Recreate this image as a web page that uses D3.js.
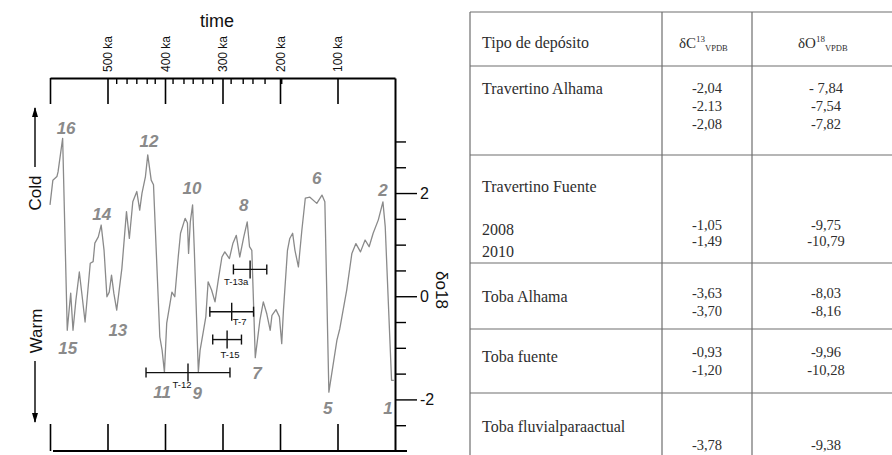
<!DOCTYPE html>
<html>
<head>
<meta charset="utf-8">
<script src="https://cdn.jsdelivr.net/npm/d3@7"></script>
<style>
  body { margin: 0; background: #fff; }
  svg { display: block; }
</style>
</head>
<body>
<div id="chart"></div>
<script>
'use strict';
// d18O curve (ka vs d18O), stage numbers, dated samples and the isotope table

const ages = [600, 595, 588, 586, 578, 570, 564, 560, 555, 549, 544, 539, 530, 525, 522, 516, 511, 506, 501, 497,
  493, 489, 484, 475, 467, 462, 456, 449, 444, 440, 434, 430, 424, 420, 409, 405, 401, 397, 388, 383,
  377, 373, 365, 361, 359, 356, 352, 349, 342, 339, 333, 329, 325, 319, 313, 307, 301, 296, 288, 282,
  276, 270, 263, 257, 253, 249, 243, 235, 229, 223, 217, 214, 207, 201, 197, 194, 187, 183, 178, 174,
  168, 162, 156, 148, 136, 127, 122, 115, 101, 96, 84, 75, 68, 60, 52, 45, 38, 29, 21, 17, 12, 6, 2];
const d18O = [1.77, 2.25, 2.32, 2.41, 3.06, -0.66, 0.06, -0.66, -0.08, 0.47, -0.01, -0.50, 0.64, 0.67, 1.03, 1.15, 1.38, 0.89, -0.01, 0.08,
  0.41, 0.06, -0.27, 0.54, 1.64, 1.12, 1.83, 2.03, 1.67, 2.00, 2.32, 2.74, 2.25, 2.16, -0.79, -1.05, -1.47, -0.52, 0.08, -0.01,
  0.76, 1.22, 1.51, 1.42, 0.83, 1.44, 1.77, 0.89, -1.47, -1.05, -0.66, -0.40, 0.28, 0.12, -0.11, 0.34, 0.76, 0.86, 0.73, 1.02,
  1.18, 0.76, 1.15, 1.44, 0.96, 0.89, -1.19, -0.47, -0.11, -0.34, -0.66, -0.37, -0.26, -0.40, -0.92, -0.27, 0.89, 1.12, 1.22, 0.89,
  0.57, 1.28, 1.90, 1.92, 1.80, 1.96, 1.83, -1.86, -0.85, -0.63, 0.12, 0.83, 1.02, 0.86, 1.09, 0.96, 1.22, 1.48, 1.83, 1.35, -0.01, -1.63, -1.63];

// isotope stage numbers, placed at (age, d18O)
const stageNames = ['16', '15', '14', '13', '12', '11', '10', '9', '8', '7', '6', '5', '2', '1'];
const stageAges = [572, 569, 510, 482, 428, 405, 353, 344, 263, 240, 136, 117, 21, 12];
const stageLevels = [3.26, -1.01, 1.59, -0.66, 3.01, -1.86, 2.10, -1.88, 1.77, -1.48, 2.29, -2.17, 2.06, -2.16];

// dated samples (ka) with their error
const sampleNames = ['T-13a', 'T-7', 'T-15', 'T-12'];
const sampleAges = [252, 284, 292, 360];
const sampleErrors = [29, 38, 25, 73];
const sampleLevels = [0.52, -0.30, -0.84, -1.48];

const timeTicks = [600, 500, 400, 300, 200, 100];
const minorTimeTicks = [484, 466, 449, 431, 417, 386, 367, 351, 334, 317, 285, 264, 247, 226, 197];
const d18Ticks = d3.range(-2.5, 3.01, 0.5);
const d18Labels = [-2, 0, 2];

// table
const tableHead = 'Tipo de depósito';
const isotopes = ['δC', 'δO'];
const isotopeMass = ['13', '18'];
const isotopeRef = 'VPDB';
const depositTypes = ['Travertino Alhama', 'Travertino Fuente', 'Toba Alhama', 'Toba fuente', 'Toba fluvialparaactual'];
const fuenteYears = ['2008', '2010'];
const deltaC13 = [['-2,04', '-2.13', '-2,08'], ['-1,05', '-1,49'], ['-3,63', '-3,70'], ['-0,93', '-1,20'], ['-3,78']];
const deltaO18 = [['- 7,84', '-7,54', '-7,82'], ['-9,75', '-10,79'], ['-8,03', '-8,16'], ['-9,96', '-10,28'], ['-9,38']];

const width = 892, height = 455;
const sans = 'Liberation Sans, Arial, Helvetica, sans-serif';
const serif = 'Liberation Serif, Times New Roman, serif';

const svg = d3.select('#chart').append('svg')
  .attr('width', width)
  .attr('height', height)
  .style('background', '#fff');

const x = d3.scaleLinear().domain([600, 0]).range([50, 395]);
const y = d3.scaleLinear().domain([-3.0, 4.23]).range([451, 78]);

const chart = svg.append('g').style('font-family', sans);

// top time axis, ticks pointing down
const topAxis = chart.append('g')
  .attr('transform', `translate(0,${y.range()[1]})`)
  .call(d3.axisTop(x).tickValues(timeTicks).tickSize(-26).tickSizeOuter(0)
    .tickFormat(d => d === 600 ? '' : d + ' ka'));
topAxis.select('.domain').attr('stroke-width', 2);
topAxis.selectAll('.tick line').attr('stroke-width', 1.6);
topAxis.selectAll('.tick text')
  .attr('transform', 'rotate(-90)')
  .attr('text-anchor', 'start')
  .attr('x', 6)
  .attr('y', 0)
  .attr('dy', '0.35em')
  .style('font-family', sans)
  .style('font-size', '12px')
  .attr('fill', '#111');

chart.append('g')
  .selectAll('line')
  .data(minorTimeTicks)
  .enter()
  .append('line')
  .attr('x1', d => x(d))
  .attr('x2', d => x(d))
  .attr('y1', y.range()[1])
  .attr('y2', y.range()[1] + 6)
  .attr('stroke', '#000')
  .attr('stroke-width', 1.4);

chart.append('text')
  .attr('x', 200)
  .attr('y', 27)
  .style('font-size', '18px')
  .attr('fill', '#111')
  .text('time');

// bottom axis, ticks pointing up
const bottomAxis = chart.append('g')
  .attr('transform', `translate(0,${y.range()[0]})`)
  .call(d3.axisBottom(x).tickValues(timeTicks).tickSize(-27).tickSizeOuter(0).tickFormat(''));
bottomAxis.select('.domain').attr('stroke-width', 2).attr('d', `M${x(600) + 3},0H${x(0) + 12}`);
bottomAxis.selectAll('.tick line').attr('stroke-width', 1.6);

// right d18O axis
const rightAxis = chart.append('g')
  .attr('transform', `translate(${x(0)},0)`)
  .call(d3.axisRight(y).tickValues(d18Ticks).tickSize(11).tickSizeOuter(0)
    .tickFormat(d => d18Labels.includes(d) ? String(d) : ''));
rightAxis.select('.domain').attr('stroke-width', 2);
rightAxis.selectAll('.tick line')
  .attr('stroke-width', 1.4)
  .attr('x2', d => d18Labels.includes(d) ? 22 : 11);
rightAxis.selectAll('.tick text')
  .attr('x', 25)
  .style('font-family', sans)
  .style('font-size', '16px')
  .attr('fill', '#111');

chart.append('text')
  .attr('transform', 'translate(442,290) rotate(90)')
  .attr('text-anchor', 'middle')
  .attr('dy', '0.35em')
  .style('font-size', '17px')
  .attr('fill', '#111')
  .text('δo18');

// Cold / Warm arrows
const defs = svg.append('defs');
defs.append('marker')
  .attr('id', 'arrow')
  .attr('viewBox', '0 0 10 6')
  .attr('refX', 9)
  .attr('refY', 3)
  .attr('markerWidth', 10)
  .attr('markerHeight', 6)
  .attr('markerUnits', 'userSpaceOnUse')
  .attr('orient', 'auto')
  .append('path')
  .attr('d', 'M0,0L10,3L0,6z')
  .attr('fill', '#000');

chart.append('line')
  .attr('x1', 35).attr('x2', 35)
  .attr('y1', 167).attr('y2', 108)
  .attr('stroke', '#000').attr('stroke-width', 1.4)
  .attr('marker-end', 'url(#arrow)');
chart.append('line')
  .attr('x1', 35).attr('x2', 35)
  .attr('y1', 361).attr('y2', 422)
  .attr('stroke', '#000').attr('stroke-width', 1.4)
  .attr('marker-end', 'url(#arrow)');

chart.append('text')
  .attr('transform', 'translate(35,193) rotate(-90)')
  .attr('text-anchor', 'middle')
  .attr('dy', '0.35em')
  .style('font-size', '17px')
  .attr('fill', '#111')
  .text('Cold');
chart.append('text')
  .attr('transform', 'translate(36,331) rotate(-90)')
  .attr('text-anchor', 'middle')
  .attr('dy', '0.35em')
  .style('font-size', '17px')
  .attr('fill', '#111')
  .text('Warm');

// the curve
const curve = d3.line()
  .x((d, i) => x(ages[i]))
  .y(d => y(d));

chart.append('path')
  .datum(d18O)
  .attr('d', curve)
  .attr('fill', 'none')
  .attr('stroke', '#8a8a8a')
  .attr('stroke-width', 1.3)
  .attr('stroke-linejoin', 'round');

// stage numbers
chart.append('g')
  .selectAll('text')
  .data(stageNames)
  .enter()
  .append('text')
  .attr('x', (d, i) => x(stageAges[i]))
  .attr('y', (d, i) => y(stageLevels[i]))
  .attr('dy', '0.35em')
  .attr('text-anchor', 'middle')
  .style('font-size', '17px')
  .style('font-style', 'italic')
  .style('font-weight', 'bold')
  .attr('fill', '#8a8a8a')
  .text(d => d);

// sample error bars
const labelShift = [[-14, 16], [8, 13], [3, 18], [-6, 15]];
const bars = chart.append('g')
  .selectAll('g')
  .data(sampleNames)
  .enter()
  .append('g')
  .attr('stroke', '#111')
  .attr('stroke-width', 1.4);

bars.append('line')
  .attr('x1', (d, i) => x(sampleAges[i] + sampleErrors[i]))
  .attr('x2', (d, i) => x(sampleAges[i] - sampleErrors[i]))
  .attr('y1', (d, i) => y(sampleLevels[i]))
  .attr('y2', (d, i) => y(sampleLevels[i]));
bars.append('line')
  .attr('x1', (d, i) => x(sampleAges[i] + sampleErrors[i]))
  .attr('x2', (d, i) => x(sampleAges[i] + sampleErrors[i]))
  .attr('y1', (d, i) => y(sampleLevels[i]) - 5)
  .attr('y2', (d, i) => y(sampleLevels[i]) + 5);
bars.append('line')
  .attr('x1', (d, i) => x(sampleAges[i] - sampleErrors[i]))
  .attr('x2', (d, i) => x(sampleAges[i] - sampleErrors[i]))
  .attr('y1', (d, i) => y(sampleLevels[i]) - 5)
  .attr('y2', (d, i) => y(sampleLevels[i]) + 5);
bars.append('line')
  .attr('x1', (d, i) => x(sampleAges[i]))
  .attr('x2', (d, i) => x(sampleAges[i]))
  .attr('y1', (d, i) => y(sampleLevels[i]) - 9)
  .attr('y2', (d, i) => y(sampleLevels[i]) + 9);
bars.append('text')
  .attr('x', (d, i) => x(sampleAges[i]) + labelShift[i][0])
  .attr('y', (d, i) => y(sampleLevels[i]) + labelShift[i][1])
  .attr('text-anchor', 'middle')
  .attr('stroke', 'none')
  .attr('fill', '#111')
  .style('font-size', '9.5px')
  .text(d => d);

// ---- table ----
const table = svg.append('g').style('font-family', serif).attr('fill', '#2e2e2e');
const colX = [470, 662, 752];
const rowLines = [12, 66, 155, 263, 329, 393];
const labelX = 482;
const colCenter = [707, 826];

table.selectAll('line.h')
  .data(rowLines)
  .enter()
  .append('line')
  .attr('x1', colX[0]).attr('x2', width)
  .attr('y1', d => d).attr('y2', d => d)
  .attr('stroke', '#6e6e6e').attr('stroke-width', 1.2);
table.selectAll('line.v')
  .data(colX)
  .enter()
  .append('line')
  .attr('x1', d => d).attr('x2', d => d)
  .attr('y1', rowLines[0]).attr('y2', height)
  .attr('stroke', '#6e6e6e').attr('stroke-width', 1.2);

table.append('text')
  .attr('x', labelX).attr('y', 48)
  .style('font-size', '16px')
  .text(tableHead);

isotopes.forEach((iso, k) => {
  const t = table.append('text')
    .attr('x', colCenter[k] - 28).attr('y', 48)
    .style('font-size', '15px');
  t.append('tspan').text(iso);
  t.append('tspan').attr('dy', -6).style('font-size', '9px').text(isotopeMass[k]);
  t.append('tspan').attr('dy', 9).style('font-size', '8.5px').text(isotopeRef);
});

// baseline of the label and of the first value in each row, and value line step
const labelBase = [94, 192, 302, 362, 432];
const valueBase = [93, 230, 298, 357, 450];
const valueStep = [18, 15.5, 18, 18, 18];

table.selectAll('text.deposit')
  .data(depositTypes)
  .enter()
  .append('text')
  .attr('x', labelX)
  .attr('y', (d, i) => labelBase[i])
  .style('font-size', '16px')
  .text(d => d);

table.selectAll('text.year')
  .data(fuenteYears)
  .enter()
  .append('text')
  .attr('x', labelX)
  .attr('y', (d, i) => 235 + i * 22)
  .style('font-size', '16px')
  .text(d => d);

[deltaC13, deltaO18].forEach((col, k) => {
  col.forEach((vals, r) => {
    table.append('g')
      .selectAll('text')
      .data(vals)
      .enter()
      .append('text')
      .attr('x', colCenter[k])
      .attr('y', (d, j) => valueBase[r] + j * valueStep[r])
      .attr('text-anchor', 'middle')
      .style('font-size', '14.5px')
      .text(d => d);
  });
});
</script>
</body>
</html>
